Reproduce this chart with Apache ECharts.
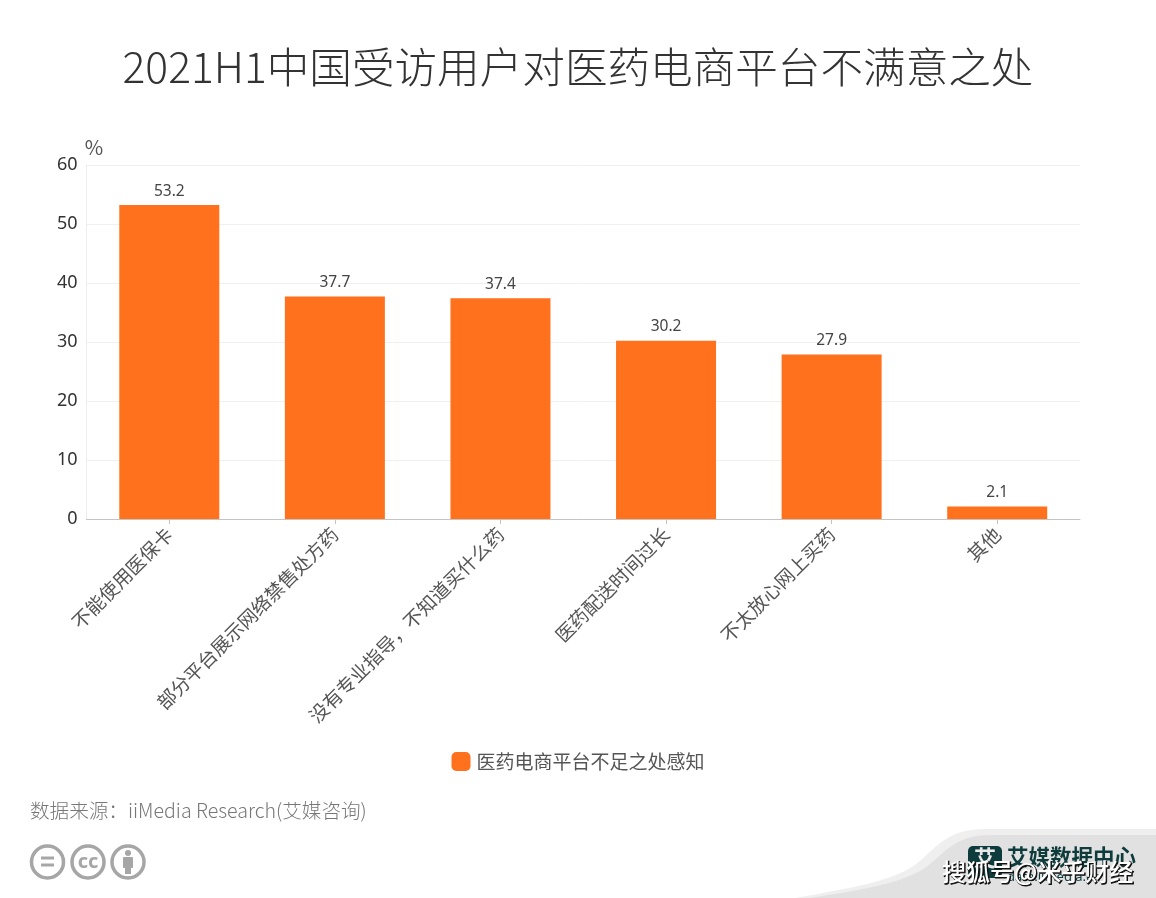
<!DOCTYPE html>
<html><head><meta charset="utf-8">
<style>html,body{margin:0;padding:0;background:#fff}#c{width:1156px;height:898px}</style>
<script src="https://cdn.jsdelivr.net/npm/echarts@6/dist/echarts.min.js"></script>
</head><body><div id="c"></div>
<script>
const categories = ['不能使用医保卡','部分平台展示网络禁售处方药','没有专业指导，不知道买什么药','医药配送时间过长','不太放心网上买药','其他'];
const values = [53.2,37.7,37.4,30.2,27.9,2.1];
const seriesName = '医药电商平台不足之处感知';
const titleText = '2021H1中国受访用户对医药电商平台不满意之处';
const sourceText = '数据来源：iiMedia Research(艾媒咨询)';
const watermark = '搜狐号@米乎财经';
const FONT = '"Noto Sans CJK SC","Noto Sans",sans-serif';
echarts.graphic.registerShape('cornerOuter', echarts.graphic.extendPath('M795 898 C850 888 890 882 915 865 C935 850 945 829 985 829 L1156 829 L1156 898 Z'));
echarts.graphic.registerShape('cornerInner', echarts.graphic.extendPath('M810 898 C860 890 900 884 925 868 C945 853 955 835 990 835 L1156 835 L1156 898 Z'));
const chart = echarts.init(document.getElementById('c'), null, {renderer:'canvas'});
const grey = '#a6a6a6';
chart.setOption({
  animation:false,
  backgroundColor:'#fff',
  textStyle:{fontFamily:FONT},
  title:{text:titleText,left:'center',top:41,textStyle:{fontSize:42.6,fontWeight:300,color:'#333',fontFamily:FONT}},
  grid:{left:86.5,right:76,top:165,bottom:379,containLabel:false},
  legend:{bottom:122,left:'center',itemWidth:19,itemHeight:19,itemGap:5,icon:'roundRect',
    textStyle:{fontSize:19,color:'#555',fontFamily:FONT,padding:[0,0,0,1]},data:[seriesName]},
  xAxis:{type:'category',data:categories,
    axisLine:{lineStyle:{color:'#c4c4c4'}},
    axisTick:{show:true,alignWithLabel:true,length:5,lineStyle:{color:'#c4c4c4'}},
    axisLabel:{rotate:45,interval:0,fontSize:19,color:'#555',margin:12,fontFamily:FONT}},
  yAxis:{type:'value',min:0,max:60,interval:10,name:'%',
    nameTextStyle:{fontSize:20,color:'#555',align:'center',padding:[0,0,2,15]},nameGap:6,
    axisLine:{show:true,lineStyle:{color:'#eeeeee',width:1}},
    axisTick:{show:false},
    splitLine:{lineStyle:{color:'#f0f0f0'}},
    axisLabel:{fontSize:18,color:'#333',margin:9,verticalAlign:'middle',padding:[0,0,4,0],fontFamily:'"Noto Sans","Open Sans",sans-serif'}},
  series:[{name:seriesName,type:'bar',data:values,barWidth:100,
    itemStyle:{color:'#ff711c'},
    label:{show:true,position:'top',distance:6,fontSize:15.5,color:'#444',fontFamily:'"Noto Sans",sans-serif'}}],
  graphic:[
    {type:'text',x:30,y:811,style:{text:sourceText,fontSize:19.6,fill:'#777',fontFamily:FONT,fontWeight:300,verticalAlign:'middle'}},
    {type:'circle',shape:{cx:47.5,cy:862,r:16},style:{fill:'none',stroke:grey,lineWidth:3.5}},
    {type:'rect',shape:{x:41,y:856.5,width:13,height:3},style:{fill:grey}},
    {type:'rect',shape:{x:41,y:863.5,width:13,height:3},style:{fill:grey}},
    {type:'circle',shape:{cx:88,cy:862,r:16},style:{fill:'none',stroke:grey,lineWidth:3.5}},
    {type:'text',x:88,y:862,style:{text:'cc',fontSize:20,fontWeight:'bold',fill:grey,align:'center',verticalAlign:'middle',fontFamily:'"Noto Sans",sans-serif'}},
    {type:'circle',shape:{cx:128,cy:862,r:16},style:{fill:'none',stroke:grey,lineWidth:3.5}},
    {type:'circle',shape:{cx:128,cy:853,r:3},style:{fill:grey}},
    {type:'rect',shape:{x:123,y:857,width:10,height:11,r:1},style:{fill:grey}},
    {type:'rect',shape:{x:125,y:866,width:6,height:8},style:{fill:grey}},
    {type:'cornerOuter',style:{fill:'#efefef'}},
    {type:'cornerInner',style:{fill:'#e1e1e1'}},
    {type:'rect',shape:{x:968,y:846,width:34,height:32,r:5},style:{fill:'#0e3b3b'}},
    {type:'text',x:985,y:858,style:{text:'艾',fontSize:22,fontWeight:'bold',fill:'#e8e8e8',align:'center',verticalAlign:'middle',fontFamily:FONT}},
    {type:'text',x:1007,y:857,style:{text:'艾媒数据中心',fontSize:21.5,fontWeight:'bold',fill:'#0e3b3b',verticalAlign:'middle',fontFamily:FONT}},
    {type:'text',x:1007,y:877,style:{text:'data.iimedia.cn',fontSize:13,fill:'#0e3b3b',verticalAlign:'middle',fontFamily:'"Noto Sans",sans-serif'}},
    {type:'text',x:943,y:873,z:99,style:{text:watermark,fontSize:24,fontWeight:500,fill:'#111',stroke:'#111',lineWidth:1,verticalAlign:'middle',fontFamily:FONT}},
    {type:'text',x:942,y:872,z:100,style:{text:watermark,fontSize:24,fontWeight:500,fill:'#fff',verticalAlign:'middle',fontFamily:FONT}}
  ]
});
</script></body></html>
